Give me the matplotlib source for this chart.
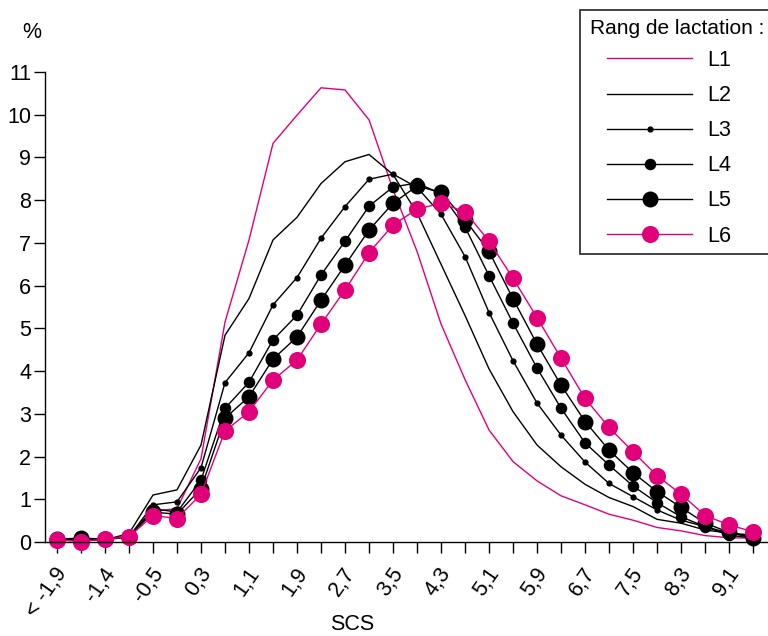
import matplotlib
matplotlib.use('Agg')
import matplotlib.pyplot as plt
from matplotlib.patches import Rectangle
from matplotlib.transforms import ScaledTranslation

plt.rcParams['font.family'] = ['Liberation Sans', 'DejaVu Sans']

# SCS classes (every other one is labelled on the axis)
x_labels = ['< -1,9', '', '-1,4', '', '-0,5', '', '0,3', '', '1,1', '', '1,9', '', '2,7', '', '3,5', '',
            '4,3', '', '5,1', '', '5,9', '', '6,7', '', '7,5', '', '8,3', '', '9,1', '']

# % of test-days per class, by lactation rank
l1 = [0.05, 0.05, 0.05, 0.15, 0.72, 0.78, 1.95, 5.15, 7.07, 9.33, 9.99, 10.63, 10.58, 9.88, 8.25,
      6.8, 5.1, 3.8, 2.62, 1.88, 1.43, 1.08, 0.87, 0.65, 0.51, 0.34, 0.26, 0.15, 0.1, 0.09]
l2 = [0.05, 0.05, 0.05, 0.2, 1.1, 1.22, 2.27, 4.84, 5.7, 7.07, 7.6, 8.39, 8.9, 9.07, 8.6,
      7.7, 6.5, 5.3, 4.05, 3.05, 2.27, 1.76, 1.35, 1.04, 0.83, 0.53, 0.44, 0.28, 0.21, 0.16]
l3 = [0.05, 0.05, 0.05, 0.12, 0.87, 0.94, 1.74, 3.73, 4.43, 5.55, 6.19, 7.11, 7.85, 8.49, 8.61,
      8.3, 7.67, 6.68, 5.37, 4.24, 3.25, 2.5, 1.87, 1.37, 1.06, 0.75, 0.51, 0.36, 0.21, 0.12]
l4 = [0.07, 0.08, 0.07, 0.12, 0.78, 0.7, 1.45, 3.13, 3.74, 4.73, 5.31, 6.25, 7.04, 7.86, 8.31,
      8.4, 8.15, 7.37, 6.23, 5.12, 4.07, 3.13, 2.32, 1.8, 1.31, 0.92, 0.59, 0.36, 0.16, 0.09]
l5 = [0.07, 0.09, 0.07, 0.12, 0.7, 0.65, 1.25, 2.9, 3.4, 4.28, 4.8, 5.66, 6.48, 7.3, 7.93,
      8.33, 8.18, 7.54, 6.8, 5.69, 4.63, 3.67, 2.82, 2.15, 1.62, 1.18, 0.81, 0.44, 0.23, 0.09]
l6 = [0.05, 0.01, 0.07, 0.12, 0.62, 0.55, 1.12, 2.6, 3.05, 3.79, 4.26, 5.1, 5.9, 6.77, 7.42,
      7.79, 7.93, 7.73, 7.04, 6.17, 5.25, 4.3, 3.36, 2.68, 2.11, 1.55, 1.12, 0.62, 0.4, 0.24]

series = [('L1', l1), ('L2', l2), ('L3', l3), ('L4', l4), ('L5', l5), ('L6', l6)]
pink = '#e2007a'
styles = {
    'L1': dict(color=pink, marker=None, ms=0),
    'L2': dict(color='black', marker=None, ms=0),
    'L3': dict(color='black', marker='o', ms=4.5),
    'L4': dict(color='black', marker='o', ms=8.3),
    'L5': dict(color='black', marker='o', ms=11.5),
    'L6': dict(color=pink, marker='o', ms=12.3),
}
FS = 15.5

fig = plt.figure(figsize=(7.68, 6.36), dpi=100)
ax = fig.add_axes([45 / 768, 1 - 542 / 636, 722 / 768, 470 / 636])

x = list(range(len(x_labels)))
handles = []
for name, vals in series:
    st = styles[name]
    h, = ax.plot(x, vals, color=st['color'], lw=1.0, marker=st['marker'], markersize=st['ms'],
                 markeredgewidth=0, label=name, clip_on=False)
    handles.append(h)

ax.set_xlim(-0.5, 29.58)
ax.set_ylim(0, 11)
ax.set_yticks(range(0, 12))
ax.set_xticks(x)
ax.set_xticklabels(x_labels, rotation=55, ha='right', va='center', rotation_mode='anchor')
ax.tick_params(axis='both', direction='out', length=8, width=1, labelsize=FS, color='black')
ax.tick_params(axis='x', pad=12)
ax.tick_params(axis='y', pad=2)
shift = ScaledTranslation(6 / 100, 0, fig.dpi_scale_trans)
for lab in ax.get_xticklabels():
    lab.set_transform(lab.get_transform() + shift)
for s in ['top', 'right']:
    ax.spines[s].set_visible(False)
for s in ['left', 'bottom']:
    ax.spines[s].set_linewidth(1)

fig.text(32 / 768, 1 - 32 / 636, '%', fontsize=FS, ha='center', va='center')
fig.text(352 / 768, 1 - 624 / 636, 'SCS', fontsize=FS, ha='center', va='center')

# legend: frame and title drawn by hand, entries by matplotlib
fig.patches.append(Rectangle((580 / 768, 1 - 254 / 636), 300 / 768, 244 / 636, transform=fig.transFigure,
                             facecolor='white', edgecolor='#222222', lw=1.2, zorder=5))
fig.text(590 / 768, 1 - 29 / 636, 'Rang de lactation :', fontsize=15, ha='left', va='center', zorder=6)
leg = fig.legend(handles=handles, loc='upper left', bbox_to_anchor=(607 / 768, 1 - 50 / 636),
                 frameon=False, fontsize=FS, handlelength=3.95, handletextpad=0.7,
                 labelspacing=0.655, borderpad=0, borderaxespad=0, numpoints=1)
leg.set_zorder(7)

fig.savefig('out.png', dpi=100)
